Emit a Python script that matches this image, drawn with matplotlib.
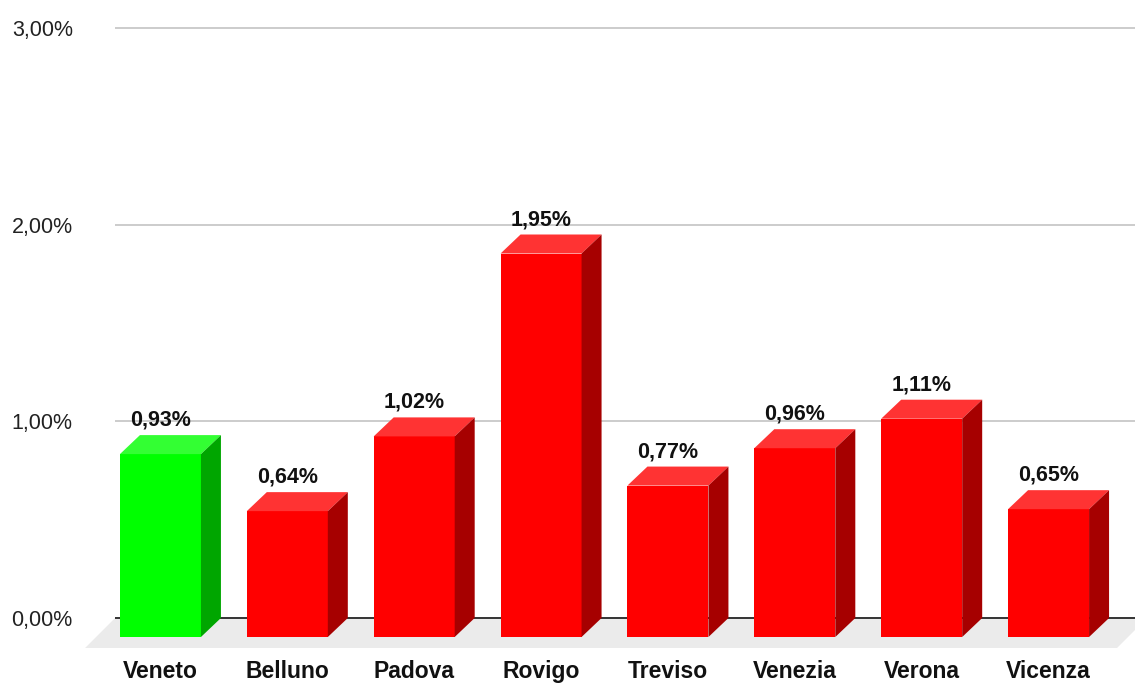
import matplotlib
matplotlib.use("Agg")
import matplotlib.pyplot as plt
from matplotlib.patches import Polygon

categories = ["Veneto", "Belluno", "Padova", "Rovigo", "Treviso", "Venezia", "Verona", "Vicenza"]
values = [0.93, 0.64, 1.02, 1.95, 0.77, 0.96, 1.11, 0.65]
value_labels = ["0,93%", "0,64%", "1,02%", "1,95%", "0,77%", "0,96%", "1,11%", "0,65%"]
yticks = [0, 1, 2, 3]
ytick_labels = ["0,00%", "1,00%", "2,00%", "3,00%"]

W, H = 1135, 684
fig = plt.figure(figsize=(W / 100, H / 100), dpi=100)

# pixel geometry
x_left_px, x_right_px = 117, 1132
y0_px, y3_px = 618, 28
ppu_y = (y0_px - y3_px) / 3.0
ppu_x = (x_right_px - x_left_px) / 8.0
ymin, ymax = -0.25, 3.02
xmin = -0.5 - 40 / ppu_x
xmax = 7.5 + 3 / ppu_x
ax_left = x_left_px - 40
bottom_px = y0_px + (-ymin) * ppu_y
top_px = y3_px - (ymax - 3) * ppu_y
ax = fig.add_axes([ax_left / W, 1 - bottom_px / H, (xmax - xmin) * ppu_x / W, (bottom_px - top_px) / H])
ax.set_xlim(xmin, xmax)
ax.set_ylim(ymin, ymax)
for s in ax.spines.values():
    s.set_visible(False)

font = "Liberation Sans"
ax.set_yticks(yticks)
ax.set_yticklabels(ytick_labels, fontsize=15.5, color="#222222", family=font)
ax.tick_params(axis="y", length=0, pad=3)
ax.set_xticks([])

# gridlines
for t in yticks[1:]:
    ax.plot([-0.515, 7.52], [t, t], color="#cccccc", lw=1.4, zorder=1, solid_capstyle="butt")

# depth offsets
dx = 20 / ppu_x
dy = 19 / ppu_y
fdx = 30 / ppu_x
fdy = 30 / ppu_y

# floor
fr_edge = 7.5 + 15 / ppu_x
floor = Polygon([(-0.515, 0), (fr_edge, 0), (fr_edge - fdx, -fdy), (-0.515 - fdx, -fdy)],
                closed=True, facecolor="#ebebeb", edgecolor="none", zorder=1, clip_on=False)
ax.add_patch(floor)
ax.plot([-0.515, 7.52], [0, 0], color="#333333", lw=1.4, zorder=2, solid_capstyle="butt")

w = 81 / ppu_x
for i, (v, lab) in enumerate(zip(values, value_labels)):
    if i == 0:
        front, top, side = "#00ff00", "#33ff33", "#00a600"
    else:
        front, top, side = "#ff0000", "#ff3333", "#a60000"
    c = i
    fl, fr = c - dx - w / 2, c - dx + w / 2
    ax.add_patch(Polygon([(fl, -dy), (fr, -dy), (fr, v - dy), (fl, v - dy)],
                         closed=True, facecolor=front, edgecolor="none", zorder=3))
    ax.add_patch(Polygon([(fl, v - dy), (fr, v - dy), (fr + dx, v), (fl + dx, v)],
                         closed=True, facecolor=top, edgecolor="none", zorder=3))
    ax.add_patch(Polygon([(fr, -dy), (fr + dx, 0), (fr + dx, v), (fr, v - dy)],
                         closed=True, facecolor=side, edgecolor="none", zorder=3))
    ax.text(c - dx, v + 9.5 / ppu_y, lab, ha="center", va="baseline", fontsize=15.5,
            fontweight="bold", family=font, color="#111111", zorder=4)
    ax.text(c - dx, -60 / ppu_y, categories[i], ha="center", va="baseline", fontsize=16.5,
            fontweight="bold", family=font, color="#111111", zorder=4, clip_on=False)

fig.savefig("out.png", dpi=100)
